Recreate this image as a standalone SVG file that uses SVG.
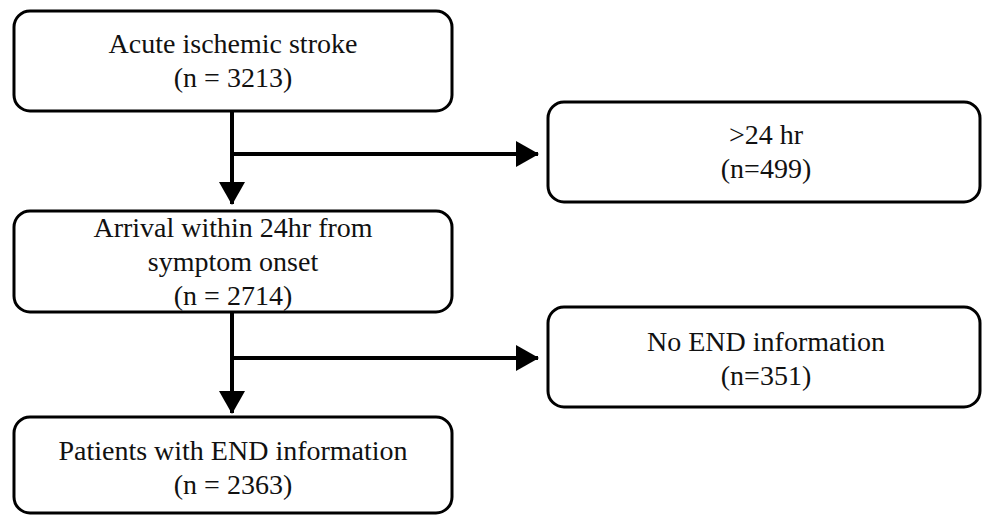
<svg xmlns="http://www.w3.org/2000/svg" width="983" height="515" viewBox="0 0 983 515">
  <defs>
    <marker id="ah" markerUnits="userSpaceOnUse" markerWidth="23" markerHeight="26" refX="22" refY="13" orient="auto">
      <polygon points="0,0 23,13 0,26" fill="#000"/>
    </marker>
    <style>
      .box { fill: #fff; stroke: #000; stroke-width: 3; }
      .lbl { font-family: "Liberation Serif", "DejaVu Serif", serif; font-size: 28px; fill: #111; text-anchor: middle; }
      .conn { stroke: #000; stroke-width: 4; fill: none; }
    </style>
  </defs>
  <rect width="983" height="515" fill="#fff"/>

  <g id="connectors">
    <line class="conn" x1="232" y1="111" x2="232" y2="204" marker-end="url(#ah)"/>
    <line class="conn" x1="232" y1="154" x2="538" y2="154" marker-end="url(#ah)"/>
    <line class="conn" x1="232" y1="312" x2="232" y2="413" marker-end="url(#ah)"/>
    <line class="conn" x1="232" y1="358" x2="538" y2="358" marker-end="url(#ah)"/>
  </g>

  <g id="node-stroke">
    <rect class="box" x="14" y="11" width="438" height="100" rx="16"/>
    <text class="lbl" x="233" y="53">Acute ischemic stroke</text>
    <text class="lbl" x="233" y="87">(n = 3213)</text>
  </g>

  <g id="node-over24">
    <rect class="box" x="548" y="102" width="432" height="100" rx="16"/>
    <text class="lbl" x="766" y="144">&gt;24 hr</text>
    <text class="lbl" x="766" y="178">(n=499)</text>
  </g>

  <g id="node-arrival">
    <rect class="box" x="14" y="211" width="438" height="101" rx="16"/>
    <text class="lbl" x="233" y="237">Arrival within 24hr from</text>
    <text class="lbl" x="233" y="271">symptom onset</text>
    <text class="lbl" x="233" y="305">(n = 2714)</text>
  </g>

  <g id="node-noend">
    <rect class="box" x="548" y="307" width="432" height="100" rx="16"/>
    <text class="lbl" x="766" y="351">No END information</text>
    <text class="lbl" x="766" y="385">(n=351)</text>
  </g>

  <g id="node-patients">
    <rect class="box" x="14" y="417" width="438" height="96" rx="16"/>
    <text class="lbl" x="233" y="460">Patients with END information</text>
    <text class="lbl" x="233" y="494">(n = 2363)</text>
  </g>
</svg>
